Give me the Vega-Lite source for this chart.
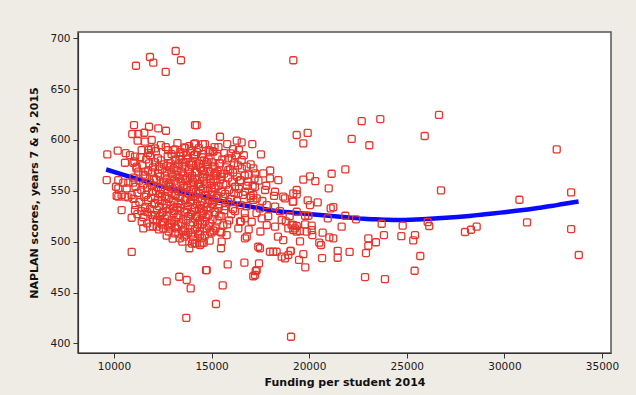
{
  "$schema": "https://vega.github.io/schema/vega-lite/v6.json",
  "width": 533,
  "height": 321,
  "autosize": {"type": "none"},
  "padding": {"left": 78, "top": 32, "right": 25, "bottom": 42},
  "background": "#efebe5",
  "datasets": {
    "fit": [
      {"x":9600,"y":571},{"x":10200,"y":567.5},{"x":10800,"y":564},{"x":11400,"y":560.5},{"x":12000,"y":557},{"x":12600,"y":553.5},{"x":13200,"y":550.5},{"x":13800,"y":547.5},{"x":14400,"y":545},{"x":15000,"y":542},{"x":15600,"y":539.5},{"x":16200,"y":537.5},{"x":16800,"y":535},{"x":17400,"y":533},{"x":18000,"y":531},{"x":18600,"y":529.5},{"x":19200,"y":528.5},{"x":19800,"y":527.5},{"x":20400,"y":526.5},{"x":21000,"y":525.5},{"x":21600,"y":524.5},{"x":22200,"y":523.5},{"x":22800,"y":522.5},{"x":23400,"y":522},{"x":24000,"y":521.5},{"x":24600,"y":521.3},{"x":25200,"y":521.5},{"x":25800,"y":522},{"x":26400,"y":522.7},{"x":27000,"y":523.5},{"x":27600,"y":524.3},{"x":28200,"y":525.3},{"x":28800,"y":526.5},{"x":29400,"y":527.7},{"x":30000,"y":529},{"x":30600,"y":530.3},{"x":31200,"y":531.7},{"x":31800,"y":533.3},{"x":32400,"y":535},{"x":33000,"y":537},{"x":33800,"y":539.5}
    ],
    "pts": [
      {"x":11127,"y":673},{"x":11844,"y":681.6},{"x":12013,"y":676},{"x":12648,"y":667},{"x":13160,"y":687.5},{"x":13432,"y":678.4},{"x":19186,"y":678.4},
      {"x":12700,"y":461},{"x":13345,"y":465.5},{"x":13724,"y":462.3},{"x":13929,"y":454},{"x":14713,"y":472},{"x":15569,"y":457},{"x":17137,"y":466},{"x":17260,"y":471},{"x":15225,"y":438.7},{"x":13704,"y":425},{"x":19068,"y":406.5},{"x":10907,"y":490},
      {"x":26650,"y":624.6},{"x":25917,"y":603.9},{"x":23643,"y":620.6},{"x":22690,"y":618.6},{"x":22177,"y":601},{"x":23080,"y":594.8},{"x":32680,"y":590.8},{"x":19360,"y":604.9},{"x":19923,"y":607},{"x":19700,"y":596.7},{"x":21852,"y":571.1},{"x":21150,"y":566.8},{"x":20041,"y":564.3},{"x":19700,"y":561},{"x":20314,"y":559.6},{"x":21000,"y":552.5},{"x":26752,"y":550.5},{"x":19360,"y":550.8},{"x":19360,"y":546.6},{"x":19155,"y":539.3},{"x":19923,"y":540.7},{"x":20041,"y":536},{"x":20434,"y":538.7},{"x":21100,"y":532.8},{"x":21234,"y":534},{"x":30770,"y":541.2},{"x":33420,"y":548.5},{"x":19360,"y":529.4},{"x":19790,"y":525.5},{"x":19960,"y":525.5},{"x":20950,"y":523},{"x":21852,"y":525.5},{"x":22400,"y":522},{"x":23715,"y":517.6},{"x":24790,"y":515.7},{"x":26070,"y":519.3},{"x":26150,"y":515.4},{"x":27980,"y":509.5},{"x":28290,"y":511.7},{"x":28580,"y":514.7},{"x":31160,"y":519},{"x":33420,"y":512.4},{"x":33810,"y":486.9},
      {"x":19186,"y":516.4},{"x":19360,"y":515.4},{"x":19790,"y":517},{"x":20130,"y":515.7},{"x":20130,"y":511.4},{"x":19186,"y":511.4},{"x":19530,"y":510.5},{"x":19872,"y":509.8},{"x":20160,"y":506.5},{"x":20690,"y":508.8},{"x":21663,"y":514.7},{"x":21030,"y":504.3},{"x":21234,"y":503.3},{"x":19530,"y":500.3},{"x":20517,"y":499},{"x":20604,"y":496.7},{"x":23030,"y":503.3},{"x":23030,"y":496},{"x":23420,"y":499.4},{"x":23830,"y":506.5},{"x":24720,"y":505.5},{"x":25420,"y":506.5},{"x":25330,"y":501.3},{"x":19050,"y":491},{"x":19700,"y":487.8},{"x":21460,"y":491},{"x":22070,"y":490},{"x":21460,"y":484.2},{"x":20660,"y":483.9},{"x":22910,"y":488.8},{"x":19480,"y":482},{"x":19800,"y":474.8},{"x":25690,"y":485.9},{"x":22860,"y":465.2},{"x":23880,"y":463.2},{"x":25400,"y":471.4},
      {"x":11025,"y":614.7},{"x":11793,"y":613},{"x":12270,"y":611.5},{"x":12664,"y":609.1},{"x":14150,"y":614.7},{"x":10937,"y":605.9},{"x":11245,"y":605.9},{"x":11552,"y":607.1},{"x":11210,"y":599.3},{"x":11588,"y":598.3},{"x":11930,"y":600},{"x":11420,"y":590},{"x":11757,"y":590},{"x":12100,"y":591.8},{"x":9657,"y":585.9},{"x":10190,"y":589.5},{"x":10600,"y":587},{"x":10820,"y":585.2},{"x":11076,"y":583.6},{"x":12780,"y":590},{"x":13125,"y":590.8},{"x":13600,"y":592.8},{"x":14100,"y":596},{"x":10563,"y":577.6},{"x":10990,"y":577.6},{"x":11160,"y":573.7},{"x":11245,"y":568.8},{"x":11588,"y":568.8},{"x":9626,"y":560.6},{"x":10220,"y":560.6},{"x":10477,"y":558},{"x":10733,"y":558},{"x":10990,"y":558},{"x":10220,"y":552.5},{"x":10650,"y":552.5},{"x":10905,"y":545.9},{"x":10135,"y":545},{"x":10390,"y":545.9},{"x":10733,"y":543.6},{"x":10100,"y":554},
      {"x":14235,"y":614.7},{"x":15430,"y":603.2},{"x":14150,"y":596.7},{"x":14660,"y":596},{"x":16290,"y":599.3},{"x":16540,"y":597.7},{"x":17085,"y":596},{"x":15980,"y":586.9},{"x":16030,"y":582},{"x":14920,"y":588.5},{"x":15090,"y":588.5},{"x":16540,"y":580.3},{"x":17530,"y":585.9},{"x":16800,"y":573.7},{"x":17140,"y":572.1},{"x":17225,"y":567.2},{"x":17650,"y":567.2},{"x":17990,"y":562.3},{"x":18417,"y":560.6},{"x":16455,"y":560.6},{"x":16880,"y":559},{"x":17225,"y":554},{"x":17740,"y":550.8},{"x":18250,"y":549.1},{"x":18670,"y":544.2},{"x":19186,"y":547.5},{"x":17140,"y":545.9},{"x":17310,"y":542.6},{"x":16370,"y":547.5},{"x":16710,"y":549.1},{"x":15430,"y":577},{"x":15856,"y":570.5},{"x":15175,"y":567.2},{"x":15517,"y":563.9},
      {"x":14406,"y":496.7},{"x":14750,"y":472.1},{"x":15825,"y":477.7},{"x":16680,"y":479.3},{"x":17430,"y":478.7},{"x":17310,"y":472.1},{"x":17225,"y":467.2},{"x":15480,"y":493.5},{"x":15517,"y":500},{"x":16710,"y":503.3},{"x":16800,"y":504.9},{"x":17390,"y":495},{"x":17475,"y":493.5},{"x":17990,"y":490.1},{"x":18160,"y":490.1},{"x":18330,"y":490.1},{"x":18590,"y":485.2},{"x":18760,"y":483.6},{"x":18930,"y":486.9},{"x":19050,"y":490.8},{"x":18670,"y":501.6},{"x":18250,"y":514.7},{"x":18590,"y":521.3},{"x":19100,"y":516.4},{"x":19270,"y":513.1},{"x":19360,"y":509.8},{"x":18930,"y":513.1},{"x":14406,"y":507},{"x":14920,"y":509.8},{"x":15430,"y":509.8},{"x":15770,"y":506.5},{"x":16370,"y":513.1},{"x":16455,"y":519.6},{"x":16710,"y":523},{"x":17055,"y":519.6},{"x":17567,"y":523},{"x":17825,"y":516.4},{"x":17140,"y":541},{"x":17475,"y":532.8},{"x":17825,"y":536},{"x":18250,"y":534.4},{"x":18760,"y":542.6},{"x":19186,"y":539.3},{"x":14235,"y":498.4},{"x":14490,"y":498.4},
      {"x":10390,"y":531.1},{"x":10905,"y":523.5},{"x":11076,"y":531.1},{"x":11420,"y":519.6},{"x":11500,"y":513.1},{"x":11844,"y":514.7},{"x":12185,"y":514.7},{"x":12525,"y":513.1},{"x":12750,"y":515.7},{"x":13125,"y":514.7},{"x":13125,"y":508.2},{"x":13380,"y":503.3},{"x":13860,"y":493.5},{"x":10220,"y":544.2},{"x":10563,"y":544.2},{"x":11588,"y":532.8},{"x":11930,"y":526.2},{"x":12185,"y":521.3},{"x":12525,"y":519.6},{"x":12955,"y":518},{"x":13550,"y":509.8},{"x":13980,"y":507},{"x":14150,"y":498.4},
      {"x":16200,"y":530},{"x":16500,"y":520},{"x":16800,"y":535},{"x":17000,"y":545},{"x":17300,"y":528},{"x":17600,"y":540},{"x":17900,"y":525},{"x":18200,"y":545},{"x":18500,"y":530},{"x":18800,"y":520},{"x":17100,"y":555},{"x":17400,"y":560},{"x":17800,"y":555},{"x":16700,"y":565},{"x":18000,"y":570},{"x":16400,"y":590},{"x":17500,"y":510},{"x":16900,"y":512},{"x":18400,"y":505},{"x":19000,"y":525},
      {"x":12400,"y":595},{"x":13250,"y":597},{"x":13850,"y":594},{"x":14550,"y":596},{"x":15150,"y":593},{"x":15800,"y":596},
      {"x":11900,"y":591},{"x":12650,"y":593},{"x":13050,"y":590},{"x":13650,"y":592},{"x":13950,"y":589},{"x":14350,"y":592},{"x":14850,"y":590},{"x":15350,"y":593},{"x":16100,"y":591},
      {"x":11750,"y":587},{"x":12150,"y":589},{"x":12950,"y":586},{"x":13400,"y":588},{"x":13700,"y":585},{"x":14250,"y":588},{"x":14550,"y":586},{"x":15050,"y":589},{"x":15650,"y":587},{"x":16250,"y":585},
      {"x":11350,"y":583},{"x":11850,"y":585},{"x":12250,"y":582},{"x":12750,"y":584},{"x":13150,"y":581},{"x":13400,"y":584},{"x":13800,"y":582},{"x":14100,"y":585},{"x":14500,"y":583},{"x":14850,"y":581},{"x":15300,"y":584},{"x":15850,"y":582},{"x":16650,"y":585},
      {"x":11050,"y":579},{"x":11650,"y":581},{"x":12100,"y":578},{"x":12400,"y":580},{"x":12900,"y":577},{"x":13150,"y":580},{"x":13550,"y":578},{"x":13700,"y":581},{"x":14050,"y":579},{"x":14350,"y":577},{"x":14600,"y":580},{"x":15000,"y":578},{"x":15550,"y":581},{"x":16150,"y":577},
      {"x":11450,"y":575},{"x":11800,"y":577},{"x":12300,"y":574},{"x":12550,"y":576},{"x":12850,"y":573},{"x":13300,"y":576},{"x":13500,"y":574},{"x":13950,"y":577},{"x":14200,"y":575},{"x":14400,"y":573},{"x":14800,"y":576},{"x":15150,"y":574},{"x":15400,"y":577},{"x":15750,"y":573},{"x":16350,"y":575},{"x":17000,"y":576},
      {"x":11150,"y":572},{"x":11750,"y":570},{"x":12000,"y":573},{"x":12450,"y":571},{"x":12700,"y":569},{"x":13050,"y":572},{"x":13250,"y":570},{"x":13650,"y":573},{"x":13850,"y":571},{"x":14150,"y":569},{"x":14450,"y":572},{"x":14600,"y":570},{"x":15050,"y":573},{"x":15300,"y":569},{"x":15950,"y":571},{"x":16550,"y":572},
      {"x":11500,"y":566},{"x":11950,"y":568},{"x":12250,"y":567},{"x":12600,"y":565},{"x":12950,"y":568},{"x":13150,"y":566},{"x":13450,"y":569},{"x":13800,"y":567},{"x":14000,"y":565},{"x":14250,"y":568},{"x":14650,"y":566},{"x":14900,"y":569},{"x":15250,"y":565},{"x":15650,"y":567},{"x":16100,"y":568},{"x":16900,"y":566},
      {"x":11000,"y":563},{"x":11600,"y":565},{"x":12050,"y":562},{"x":12350,"y":564},{"x":12700,"y":561},{"x":13000,"y":564},{"x":13350,"y":562},{"x":13550,"y":565},{"x":13900,"y":563},{"x":14150,"y":561},{"x":14550,"y":564},{"x":14750,"y":562},{"x":15100,"y":565},{"x":15450,"y":561},{"x":15850,"y":563},{"x":16300,"y":564},{"x":17200,"y":562},
      {"x":11300,"y":560},{"x":11850,"y":558},{"x":12150,"y":561},{"x":12550,"y":559},{"x":12800,"y":557},{"x":13100,"y":560},{"x":13450,"y":558},{"x":13650,"y":561},{"x":14050,"y":559},{"x":14300,"y":557},{"x":14600,"y":560},{"x":14950,"y":558},{"x":15200,"y":561},{"x":15600,"y":557},{"x":16050,"y":559},{"x":16500,"y":560},
      {"x":11100,"y":554},{"x":11500,"y":556},{"x":11950,"y":555},{"x":12250,"y":553},{"x":12650,"y":556},{"x":12850,"y":554},{"x":13200,"y":557},{"x":13550,"y":555},{"x":13750,"y":553},{"x":14100,"y":556},{"x":14400,"y":554},{"x":14750,"y":557},{"x":15000,"y":553},{"x":15350,"y":555},{"x":15750,"y":556},{"x":16200,"y":554},{"x":16800,"y":555},
      {"x":11400,"y":551},{"x":11700,"y":553},{"x":12150,"y":550},{"x":12400,"y":552},{"x":12750,"y":549},{"x":13000,"y":552},{"x":13300,"y":550},{"x":13600,"y":553},{"x":13950,"y":551},{"x":14200,"y":549},{"x":14550,"y":552},{"x":14800,"y":550},{"x":15150,"y":553},{"x":15500,"y":549},{"x":15900,"y":551},{"x":16400,"y":552},
      {"x":11200,"y":548},{"x":11650,"y":546},{"x":11950,"y":549},{"x":12350,"y":547},{"x":12600,"y":545},{"x":12950,"y":548},{"x":13150,"y":546},{"x":13500,"y":549},{"x":13850,"y":547},{"x":14100,"y":545},{"x":14350,"y":548},{"x":14700,"y":546},{"x":15050,"y":549},{"x":15300,"y":545},{"x":15700,"y":547},{"x":16150,"y":548},{"x":16600,"y":546},
      {"x":11000,"y":542},{"x":11550,"y":544},{"x":11900,"y":543},{"x":12250,"y":541},{"x":12450,"y":544},{"x":12800,"y":542},{"x":13150,"y":545},{"x":13400,"y":543},{"x":13700,"y":541},{"x":14050,"y":544},{"x":14300,"y":542},{"x":14650,"y":545},{"x":14900,"y":541},{"x":15250,"y":543},{"x":15600,"y":544},{"x":16000,"y":542},{"x":17000,"y":543},
      {"x":11300,"y":539},{"x":11750,"y":541},{"x":12100,"y":538},{"x":12450,"y":540},{"x":12700,"y":537},{"x":13050,"y":540},{"x":13300,"y":538},{"x":13650,"y":541},{"x":13900,"y":539},{"x":14250,"y":537},{"x":14500,"y":540},{"x":14800,"y":538},{"x":15150,"y":541},{"x":15400,"y":537},{"x":15850,"y":539},{"x":16300,"y":540},
      {"x":11100,"y":536},{"x":11600,"y":534},{"x":12050,"y":537},{"x":12300,"y":535},{"x":12650,"y":533},{"x":12900,"y":536},{"x":13250,"y":534},{"x":13450,"y":537},{"x":13800,"y":535},{"x":14150,"y":533},{"x":14400,"y":536},{"x":14750,"y":534},{"x":15000,"y":537},{"x":15350,"y":533},{"x":15700,"y":535},{"x":16500,"y":536},
      {"x":11400,"y":530},{"x":11850,"y":532},{"x":12200,"y":531},{"x":12500,"y":529},{"x":12850,"y":532},{"x":13100,"y":530},{"x":13400,"y":533},{"x":13750,"y":531},{"x":14000,"y":529},{"x":14350,"y":532},{"x":14600,"y":530},{"x":14950,"y":533},{"x":15200,"y":529},{"x":15650,"y":531},{"x":16100,"y":532},
      {"x":11200,"y":527},{"x":11700,"y":529},{"x":12100,"y":526},{"x":12450,"y":528},{"x":12700,"y":525},{"x":13050,"y":528},{"x":13300,"y":526},{"x":13600,"y":529},{"x":13950,"y":527},{"x":14200,"y":525},{"x":14550,"y":528},{"x":14800,"y":526},{"x":15150,"y":529},{"x":15500,"y":525},{"x":16000,"y":527},{"x":16700,"y":528},
      {"x":11500,"y":524},{"x":12000,"y":522},{"x":12350,"y":525},{"x":12600,"y":523},{"x":12950,"y":521},{"x":13200,"y":524},{"x":13550,"y":522},{"x":13800,"y":525},{"x":14150,"y":523},{"x":14400,"y":521},{"x":14700,"y":524},{"x":15050,"y":522},{"x":15400,"y":525},{"x":15900,"y":521},
      {"x":11700,"y":518},{"x":12200,"y":520},{"x":12500,"y":519},{"x":12850,"y":517},{"x":13100,"y":520},{"x":13450,"y":518},{"x":13700,"y":521},{"x":14050,"y":519},{"x":14300,"y":517},{"x":14650,"y":520},{"x":14900,"y":518},{"x":15300,"y":521},{"x":15800,"y":517},
      {"x":12000,"y":515},{"x":12450,"y":517},{"x":12900,"y":514},{"x":13300,"y":516},{"x":13650,"y":513},{"x":13900,"y":516},{"x":14250,"y":514},{"x":14500,"y":517},{"x":14850,"y":515},{"x":15200,"y":513},{"x":15600,"y":516},
      {"x":12300,"y":512},{"x":12800,"y":510},{"x":13200,"y":513},{"x":13550,"y":511},{"x":13800,"y":509},{"x":14150,"y":512},{"x":14400,"y":510},{"x":14750,"y":513},{"x":15100,"y":511},{"x":15500,"y":509},
      {"x":12700,"y":506},{"x":13300,"y":508},{"x":13700,"y":507},{"x":14050,"y":505},{"x":14300,"y":508},{"x":14650,"y":506},{"x":15000,"y":509},
      {"x":13000,"y":503},{"x":13600,"y":505},{"x":14050,"y":502},{"x":14500,"y":504},{"x":14900,"y":501},
      {"x":13500,"y":500},{"x":14000,"y":498},{"x":14600,"y":499},
      {"x":13350,"y":580.5},{"x":13950,"y":575.5},{"x":14550,"y":569.5},{"x":13750,"y":562.5},{"x":14350,"y":556.5},{"x":13450,"y":549.5},{"x":14650,"y":545.5},{"x":13950,"y":540.5},{"x":14450,"y":532.5},{"x":13650,"y":529.5},{"x":14250,"y":524.5},{"x":14950,"y":561.5},{"x":13250,"y":565.5},{"x":14150,"y":585.5},{"x":14750,"y":578.5},{"x":13550,"y":587.5},{"x":15200,"y":551.5},{"x":15050,"y":537.5},{"x":12900,"y":557.5},{"x":12650,"y":543.5},{"x":13050,"y":533.5},{"x":14850,"y":526.5},{"x":15450,"y":566.5},{"x":12750,"y":574.5},{"x":14050,"y":551.5}
    ]
  },
  "encoding": {
    "x": {
      "field": "x", "type": "quantitative",
      "scale": {"domain": [8156, 35461], "nice": false, "zero": false},
      "axis": {"values": [10000, 15000, 20000, 25000, 30000, 35000], "title": "Funding per student 2014", "format": "d"}
    },
    "y": {
      "field": "y", "type": "quantitative",
      "scale": {"domain": [390.5, 706.2], "nice": false, "zero": false},
      "axis": {"values": [400, 450, 500, 550, 600, 650, 700], "title": "NAPLAN scores, years 7 & 9, 2015", "titlePadding": 10}
    }
  },
  "layer": [
    {
      "data": {"name": "fit"},
      "mark": {"type": "line", "color": "#0a0aff", "strokeWidth": 4.5, "interpolate": "monotone", "clip": true}
    },
    {
      "data": {"name": "pts"},
      "mark": {
        "type": "point",
        "shape": "M-0.55,-1 L0.55,-1 Q1,-1 1,-0.55 L1,0.55 Q1,1 0.55,1 L-0.55,1 Q-1,1 -1,0.55 L-1,-0.55 Q-1,-1 -0.55,-1 Z",
        "filled": false, "size": 49, "strokeWidth": 1.3, "color": "#e8352b", "opacity": 1
      }
    }
  ],
  "config": {
    "view": {"fill": "#ffffff", "stroke": "#555555", "strokeWidth": 1.5},
    "axis": {
      "grid": false,
      "labelFont": "DejaVu Sans", "labelFontSize": 10.5, "labelColor": "#1a1a1a",
      "titleFont": "DejaVu Sans", "titleFontSize": 11, "titleFontWeight": "bold", "titleColor": "#111111",
      "domainColor": "#333333", "domainWidth": 1.2, "tickColor": "#333333", "tickSize": 5, "labelPadding": 3, "titlePadding": 5
    }
  }
}
